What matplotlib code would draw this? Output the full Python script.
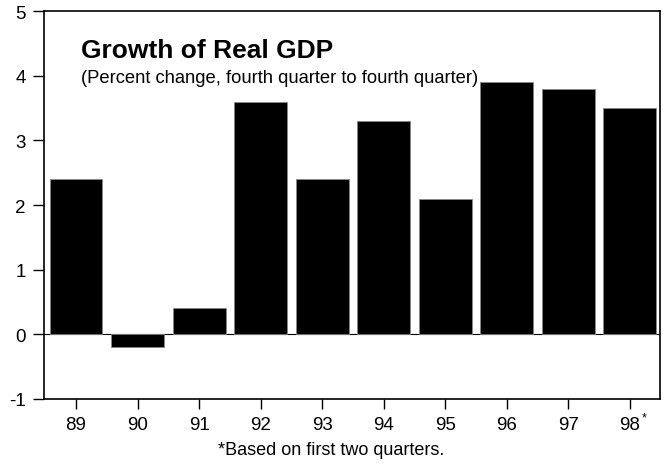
import numpy as np
import matplotlib
matplotlib.use("Agg")
import matplotlib.pyplot as plt
import matplotlib.transforms as mtransforms

years = ["89", "90", "91", "92", "93", "94", "95", "96", "97", "98"]
growth = [2.4, -0.2, 0.4, 3.6, 2.4, 3.3, 2.1, 3.9, 3.8, 3.5]
yticks = [-1, 0, 1, 2, 3, 4, 5]

plt.rcParams['font.family'] = ['Liberation Sans', 'DejaVu Sans']

fig = plt.figure(figsize=(6.63, 4.64), dpi=100)
ax = fig.add_axes([0.0664, 0.138, 0.929, 0.836])

x = np.arange(len(years))
ax.bar(x, growth, width=0.86, color='black', edgecolor='#888888', linewidth=0.6, zorder=2)
ax.axhline(0, color='black', linewidth=0.8, zorder=1)

ax.set_xlim(-0.52, 9.49)
ax.set_ylim(-1, 5)
ax.set_yticks(yticks)
ax.set_yticklabels([str(v) for v in yticks])
ax.set_xticks(x)
ax.set_xticklabels(years)
ax.tick_params(axis='y', direction='out', length=8, width=1, pad=5, labelsize=13.5)
ax.tick_params(axis='x', direction='out', length=7, width=1, pad=5, labelsize=13.5)
for s in ax.spines.values():
    s.set_linewidth(1.2)

# small asterisk after the last year label
trans = mtransforms.blended_transform_factory(ax.transData, ax.transAxes)
ax.text(x[-1] + 0.24, -0.047, "*", transform=trans, fontsize=9, ha='center', va='center')

ax.text(0.06, 0.90, "Growth of Real GDP", transform=ax.transAxes,
        fontsize=19, fontweight='bold', va='center', ha='left')
ax.text(0.06, 0.828, "(Percent change, fourth quarter to fourth quarter)",
        transform=ax.transAxes, fontsize=13.2, va='center', ha='left')

fig.text(0.50, 0.029, "*Based on first two quarters.", ha='center', va='center', fontsize=13)

fig.savefig("out.png", dpi=100)
